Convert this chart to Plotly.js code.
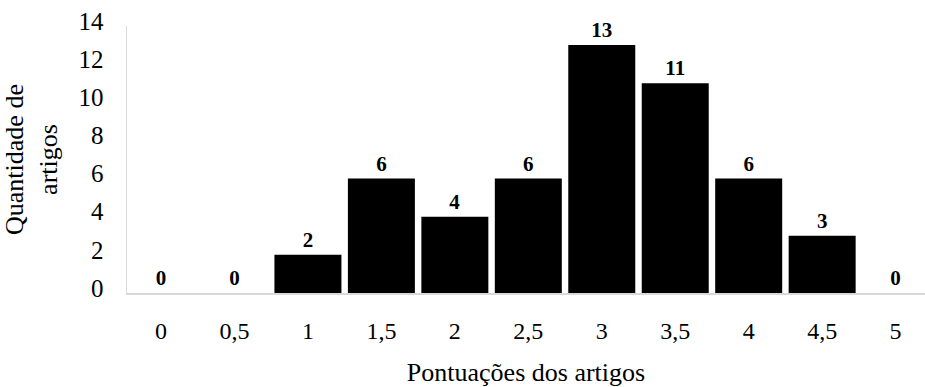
<!DOCTYPE html>
<html>
<head>
<meta charset="utf-8">
<script src="https://cdn.plot.ly/plotly-3.0.1.min.js"></script>
<style>html,body{margin:0;padding:0;background:#fff;}#chart{width:925px;height:387px;}</style>
</head>
<body>
<div id="chart"></div>
<script>
const categories = ["0", "0,5", "1", "1,5", "2", "2,5", "3", "3,5", "4", "4,5", "5"];
const counts = [0, 0, 2, 6, 4, 6, 13, 11, 6, 3, 0];
const yTicks = [0, 2, 4, 6, 8, 10, 12, 14];

const font = "'Times New Roman', 'Liberation Serif', 'DejaVu Serif', serif";

const trace = {
  type: "bar",
  x: categories.map((c, i) => i),
  y: counts,
  text: counts.map(String),
  textposition: "outside",
  textfont: {family: font, size: 21, color: "#000", weight: "bold"},
  cliponaxis: false,
  marker: {color: "#000", line: {width: 0}},
  hoverinfo: "none"
};

const layout = {
  width: 925, height: 387,
  margin: {l: 127, r: 0, t: 26, b: 94},
  paper_bgcolor: "#fff", plot_bgcolor: "#fff",
  bargap: 0.088,
  showlegend: false,
  font: {family: font, size: 25, color: "#000"},
  xaxis: {
    range: [-0.463, 10.40],
    tickmode: "array",
    tickvals: categories.map((c, i) => i),
    ticktext: categories,
    showgrid: false, zeroline: false,
    showline: true, linecolor: "#d9d9d9", linewidth: 1.5,
    ticks: "outside", ticklen: 16, tickcolor: "rgba(0,0,0,0)",
    tickfont: {family: font, size: 24, color: "#000"},
    title: {text: "Pontuações dos artigos", font: {family: font, size: 26, color: "#000"}, standoff: 24}
  },
  yaxis: {
    range: [0, 14],
    tickmode: "array",
    tickvals: yTicks,
    ticktext: yTicks.map(String),
    showgrid: false, zeroline: false,
    showline: true, linecolor: "#d9d9d9", linewidth: 1.5,
    ticks: "outside", ticklen: 17, tickcolor: "rgba(0,0,0,0)",
    ticklabelshift: -5,
    tickfont: {family: font, size: 25, color: "#000"},
    title: {text: "Quantidade de<br>artigos", font: {family: font, size: 26, color: "#000"}, standoff: 20}
  }
};

Plotly.newPlot("chart", [trace], layout, {staticPlot: true, displayModeBar: false});
</script>
</body>
</html>
